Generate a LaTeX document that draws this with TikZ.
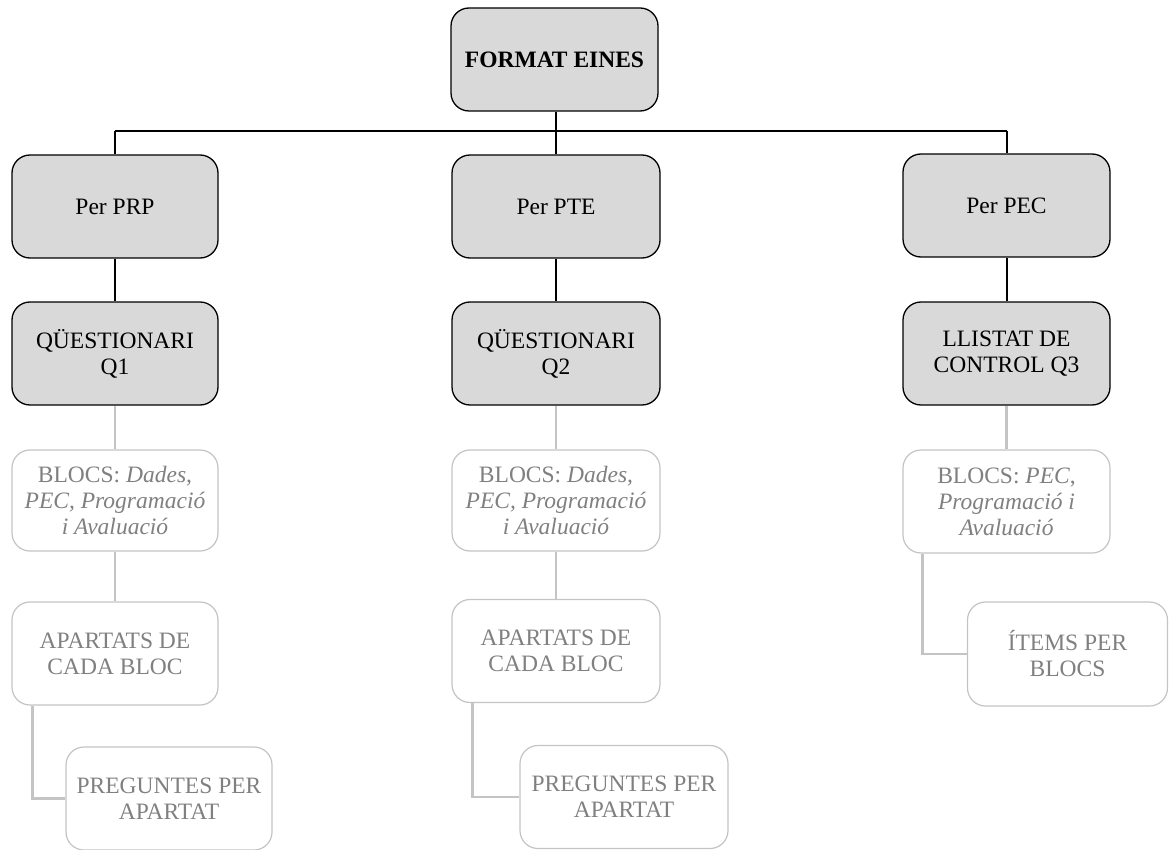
\documentclass[tikz,border=0pt]{standalone}
\usepackage{fontspec}
\setmainfont{Liberation Serif}
\usetikzlibrary{backgrounds}
\definecolor{boxfill}{HTML}{D9D9D9}
\definecolor{lightline}{HTML}{C4C4C4}
\definecolor{lighttext}{HTML}{808080}
\begin{document}
\begin{tikzpicture}[x=1pt,y=-1pt,
  darkbox/.style={draw=black, line width=1.3pt, fill=boxfill, rounded corners=18pt,
    minimum width=207pt, minimum height=103pt, align=center, inner sep=2pt,
    font=\fontsize{23.5}{26}\selectfont},
  lightbox/.style={draw=lightline, line width=1.2pt, fill=white, rounded corners=18pt,
    minimum width=207pt, minimum height=103pt, align=center, inner sep=2pt,
    text=lighttext, font=\fontsize{23.5}{26}\selectfont},
  darkline/.style={draw=black, line width=2pt},
  lightconn/.style={draw=lightline, line width=2.6pt}]
\useasboundingbox (0,0) rectangle (1169,850);
% top level
\node[darkbox] (root) at (554.5,59.5) {\textbf{FORMAT EINES}};
\node[darkbox, minimum width=206pt] (prp) at (115,206.5) {Per PRP};
\node[darkbox, minimum width=208pt] (pte) at (556,206.5) {Per PTE};
\node[darkbox] (pec) at (1006.5,205.5) {Per PEC};
\node[darkbox, minimum width=206pt] (q1) at (115,353.5) {QÜESTIONARI\\Q1};
\node[darkbox, minimum width=208pt] (q2) at (556,353.5) {QÜESTIONARI\\Q2};
\node[darkbox] (q3) at (1006.5,353.5) {LLISTAT DE\\CONTROL Q3};
% light boxes
\node[lightbox, minimum width=206pt, minimum height=101pt] (b1) at (115,500.5)
  {BLOCS: \textit{Dades,}\\\textit{PEC, Programació}\\\textit{i Avaluació}};
\node[lightbox, minimum width=208pt, minimum height=101pt] (b2) at (556,500.5)
  {BLOCS: \textit{Dades,}\\\textit{PEC, Programació}\\\textit{i Avaluació}};
\node[lightbox, minimum height=103pt] (b3) at (1006.5,501.5)
  {BLOCS: \textit{PEC},\\\textit{Programació i}\\\textit{Avaluació}};
\node[lightbox, minimum width=206pt] (a1) at (115,653.5) {APARTATS DE\\CADA BLOC};
\node[lightbox, minimum width=208pt] (a2) at (556,651) {APARTATS DE\\CADA BLOC};
\node[lightbox, minimum width=206pt] (p1) at (169,798.5) {PREGUNTES PER\\APARTAT};
\node[lightbox, minimum width=208pt] (p2) at (624,797) {PREGUNTES PER\\APARTAT};
\node[lightbox, minimum width=200pt, minimum height=104pt] (it) at (1067.5,654) {ÍTEMS PER\\BLOCS};
\coordinate (busL) at (115,131);
\coordinate (busR) at (1006.5,131);
\begin{scope}[on background layer]
  \draw[darkline] (busL) -- (busR);
  \draw[darkline] (root.south -| 556,0) -- (556,131);
  \draw[darkline] (busL) -- (prp.north);
  \draw[darkline] (pte.north |- busL) -- (pte.north);
  \draw[darkline] (busR) -- (pec.north);
  \draw[darkline] (prp.south) -- (q1.north);
  \draw[darkline] (pte.south) -- (q2.north);
  \draw[darkline] (pec.south) -- (q3.north);
  \draw[lightconn] (q1.south) -- (b1.north);
  \draw[lightconn] (q2.south) -- (b2.north);
  \draw[lightconn] (q3.south) -- (b3.north);
  \draw[lightconn] (b1.south) -- (a1.north);
  \draw[lightconn] (b2.south) -- (a2.north);
  \draw[lightconn] ([xshift=21pt]a1.south west) |- (p1.west);
  \draw[lightconn] ([xshift=21pt]a2.south west) |- (p2.west);
  \draw[lightconn] ([xshift=20pt]b3.south west) |- (it.west);
\end{scope}
\end{tikzpicture}
\end{document}
